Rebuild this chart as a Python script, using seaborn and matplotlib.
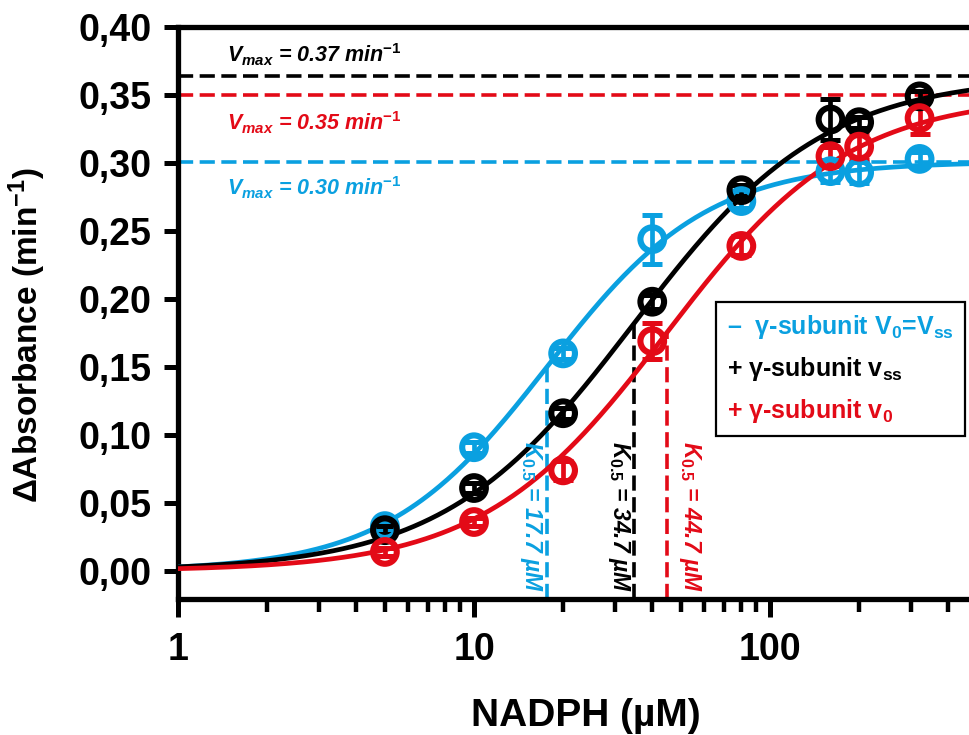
import numpy as np
import pandas as pd
import matplotlib
matplotlib.use("Agg")
import matplotlib.pyplot as plt
from matplotlib.lines import Line2D
from matplotlib.ticker import FixedLocator, FuncFormatter, NullFormatter
import seaborn as sns

# ---------------- data ----------------
nadph = [5, 10, 20, 40, 80, 160, 200, 320]

blue_y = [0.033, 0.091, 0.160, 0.244, 0.272, 0.294, 0.293, 0.303]
blue_err = [0.003, 0.004, 0.004, 0.018, 0.005, 0.008, 0.008, 0.005]

black_y = [0.030, 0.061, 0.116, 0.198, 0.280, 0.332, 0.330, 0.349]
black_err = [0.003, 0.004, 0.004, 0.005, 0.004, 0.015, 0.004, 0.004]

red_y = [0.014, 0.036, 0.074, 0.169, 0.239, 0.305, 0.312, 0.333]
red_err = [0.003, 0.003, 0.007, 0.013, 0.007, 0.007, 0.010, 0.012]

# Hill fit parameters (Vmax, K0.5, n)
fit_names = ["blue", "black", "red"]
fit_vmax = [0.301, 0.364, 0.350]
fit_k = [17.7, 34.7, 44.7]
fit_n = [1.6, 1.35, 1.4]

vmax_labels = ["0.30", "0.37", "0.35"]
k_labels = ["17.7", "34.7", "44.7"]
legend_labels = ["–  γ-subunit V$_{\\mathrm{0}}$=V$_{\\mathrm{ss}}$",
                 "+ γ-subunit v$_{\\mathrm{ss}}$",
                 "+ γ-subunit v$_{\\mathrm{0}}$"]
y_ticks = [0.00, 0.05, 0.10, 0.15, 0.20, 0.25, 0.30, 0.35, 0.40]
x_ticks = [1, 10, 100]

BLUE = "#0AA0E0"
BLACK = "#000000"
RED = "#E30A17"
colors = {"blue": BLUE, "black": BLACK, "red": RED}

# ---------------- style ----------------
sns.set_theme(style="ticks")
plt.rcParams["font.family"] = ["Liberation Sans", "DejaVu Sans"]
plt.rcParams["font.weight"] = "bold"
plt.rcParams["mathtext.fontset"] = "custom"
plt.rcParams["mathtext.rm"] = "Liberation Sans:bold"
plt.rcParams["mathtext.it"] = "Liberation Sans:bold:italic"
plt.rcParams["mathtext.bf"] = "Liberation Sans:bold"
plt.rcParams["mathtext.sf"] = "Liberation Sans:bold"

fig = plt.figure(figsize=(9.69, 7.35), dpi=100)
ax = fig.add_axes([178 / 969, 136 / 735, (969 - 178) / 969, (599 - 27) / 735])

XMAX = 470
YMIN, YMAX = -0.0206, 0.40

# fitted curves
xs = np.logspace(0, np.log10(XMAX), 400)
rows = []
for name, vm, k, n in zip(fit_names, fit_vmax, fit_k, fit_n):
    ys = vm * xs ** n / (k ** n + xs ** n)
    rows.append(pd.DataFrame({"x": xs, "y": ys, "series": name}))
curves = pd.concat(rows, ignore_index=True)

sns.lineplot(data=curves, x="x", y="y", hue="series", palette=colors,
             linewidth=3.4, legend=False, ax=ax, zorder=4, sort=False)

# dashed Vmax and K0.5 lines
dash = (4.2, 1.8)
for name, vm, k in zip(fit_names, fit_vmax, fit_k):
    c = colors[name]
    ax.plot([1, XMAX], [vm, vm], color=c, lw=2.6, dashes=dash, zorder=2)
    ax.plot([k, k], [YMIN, vm / 2], color=c, lw=2.6, dashes=dash, zorder=2)

# data points with error bars
pts = pd.DataFrame({
    "x": nadph * 3,
    "y": blue_y + black_y + red_y,
    "err": blue_err + black_err + red_err,
    "series": ["blue"] * 8 + ["black"] * 8 + ["red"] * 8,
})
for name in ["blue", "red", "black"]:
    d = pts[pts.series == name]
    ax.errorbar(d.x, d.y, yerr=d.err, fmt="none", ecolor=colors[name],
                elinewidth=3.4, capsize=7.5, capthick=3.6, zorder=5)
sns.scatterplot(data=pts, x="x", y="y", hue="series", palette=colors,
                marker="o", s=290, linewidth=4.4,
                legend=False, ax=ax, zorder=6)
coll = ax.collections[-1]
coll.set_edgecolors(coll.get_facecolors())
coll.set_facecolors("none")

# Vmax labels
vm_text_base = {"black": 0.3740, "red": 0.3240, "blue": 0.2765}
vm_idx = {"blue": 0, "black": 1, "red": 2}
for name in ["black", "red", "blue"]:
    i = vm_idx[name]
    ax.text(1.46, vm_text_base[name],
            r"$V_{max}$ = " + vmax_labels[i] + r" min$^{\mathit{-1}}$",
            color=colors[name], fontsize=15.5, fontstyle="italic", fontweight="bold",
            ha="left", va="baseline", zorder=7)

# K0.5 labels (rotated)
k_text_x = {"blue": 15.6, "black": 31.0, "red": 53.5}
for name in ["blue", "black", "red"]:
    i = vm_idx[name]
    ax.text(k_text_x[name], 0.040,
            r"$K_{\mathrm{0.5}}$ = " + k_labels[i] + " µM",
            color=colors[name], fontsize=16.5, fontstyle="italic", fontweight="bold",
            rotation=-90, ha="center", va="center", zorder=7)

# axes formatting
ax.set_xscale("log")
ax.set_xlim(1, XMAX)
ax.set_ylim(YMIN, YMAX)
ax.xaxis.set_major_locator(FixedLocator(x_ticks))
ax.xaxis.set_major_formatter(FuncFormatter(lambda v, p: f"{int(v)}"))
minors = [m * d for d in [1, 10, 100] for m in range(2, 10) if m * d < XMAX]
ax.xaxis.set_minor_locator(FixedLocator(minors))
ax.xaxis.set_minor_formatter(NullFormatter())
ax.yaxis.set_major_locator(FixedLocator(y_ticks))
ax.yaxis.set_major_formatter(FuncFormatter(lambda v, p: f"{v:.2f}".replace(".", ",")))

for s in ["left", "bottom", "top"]:
    ax.spines[s].set_linewidth(3.8)
    ax.spines[s].set_color("black")
ax.spines["right"].set_visible(False)

ax.tick_params(axis="y", which="major", direction="out", length=10, width=3.6,
               pad=9, labelsize=27, color="black", labelcolor="black")
ax.tick_params(axis="x", which="major", direction="out", length=13, width=3.6,
               pad=11, labelsize=27, color="black", labelcolor="black")
ax.tick_params(axis="x", which="minor", direction="out", length=9, width=3.2,
               color="black")
for lab in ax.get_xticklabels() + ax.get_yticklabels():
    lab.set_fontweight("bold")

ax.set_xlabel("NADPH (µM)", fontsize=28, fontweight="bold", color="black", va="center")
ax.set_ylabel("ΔAbsorbance (min$^{-1}$)", fontsize=24, fontweight="bold",
              color="black", va="center")
ax.xaxis.set_label_coords((586 - 178) / 791, (599 - 716) / 572)
ax.yaxis.set_label_coords((27 - 178) / 791, (599 - 335) / 572)

# legend
handles = [Line2D([], [], linestyle="none") for _ in legend_labels]
leg = ax.legend(handles, legend_labels, loc="upper left", bbox_to_anchor=(0.68, 0.519),
                borderaxespad=0, handlelength=0, handletextpad=0, fontsize=18,
                labelcolor=[BLUE, BLACK, RED], frameon=True, fancybox=False,
                framealpha=1, edgecolor="black", labelspacing=0.55, borderpad=0.45)
leg.get_frame().set_linewidth(1.6)
leg.set_zorder(10)
for t in leg.get_texts():
    t.set_fontweight("bold")

fig.savefig("out.png", dpi=100)
